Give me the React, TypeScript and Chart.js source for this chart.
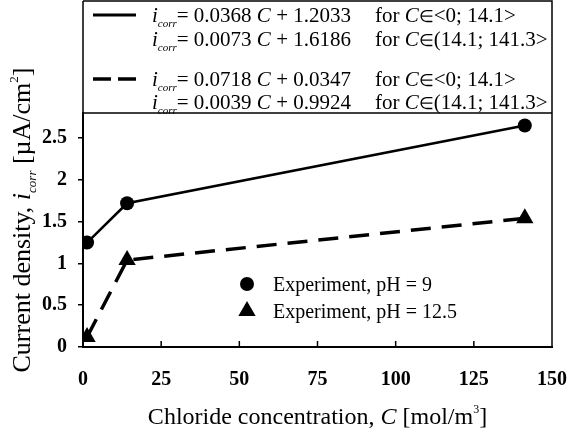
import React, { useEffect, useRef } from 'react';
import { Chart, registerables } from 'chart.js';

Chart.register(...registerables);

// ---- data ----
const concentrations = [1.3, 14.1, 141.3];
const currentPH9 = [1.25, 1.72, 2.65];
const currentPH125 = [0.12, 1.04, 1.54];
const xTicks = [0, 25, 50, 75, 100, 125, 150];
const yTicks = [0, 0.5, 1, 1.5, 2, 2.5];
const seriesNames = ['Experiment, pH = 9', 'Experiment, pH = 12.5'];
const eqSlopes = ['0.0368', '0.0073', '0.0718', '0.0039'];
const eqIntercepts = ['1.2033', '1.6186', '0.0347', '0.9924'];
const eqRanges = ['<0; 14.1>', '(14.1; 141.3>', '<0; 14.1>', '(14.1; 141.3>'];

const FAM = '"Liberation Serif", "Times New Roman", Times, serif';

type Seg = { t: string; it?: boolean; sub?: boolean; sup?: boolean; scale?: number };

function segFont(s: Seg, size: number) {
  let sz = s.sub || s.sup ? Math.round(size * 0.5) : size;
  if (s.scale) sz = Math.round(size * s.scale);
  return `${s.it ? 'italic ' : ''}${sz}px ${FAM}`;
}

function richWidth(ctx: CanvasRenderingContext2D, segs: Seg[], size: number) {
  let w = 0;
  for (const s of segs) {
    ctx.font = segFont(s, size);
    w += ctx.measureText(s.t).width;
  }
  return w;
}

function drawRich(ctx: CanvasRenderingContext2D, segs: Seg[], x: number, y: number, size: number) {
  ctx.textBaseline = 'alphabetic';
  ctx.textAlign = 'left';
  let cx = x;
  for (const s of segs) {
    ctx.font = segFont(s, size);
    let dy = 0;
    if (s.sub) dy = size * 0.22;
    if (s.sup) dy = -size * 0.45;
    ctx.fillText(s.t, cx, y + dy);
    cx += ctx.measureText(s.t).width;
  }
  return cx;
}

const decorPlugin = {
  id: 'decor',
  afterDraw(chart: any) {
    const ctx: CanvasRenderingContext2D = chart.ctx;
    const { left, right, top, bottom } = chart.chartArea;
    const xs = chart.scales.x;
    ctx.save();
    ctx.fillStyle = '#000';
    ctx.strokeStyle = '#000';

    // frame: legend box + plot right/top
    ctx.lineWidth = 1.5;
    ctx.beginPath();
    ctx.moveTo(left, 1);
    ctx.lineTo(right, 1);
    ctx.lineTo(right, bottom);
    ctx.moveTo(left, 1);
    ctx.lineTo(left, top);
    ctx.moveTo(left, top);
    ctx.lineTo(right, top);
    ctx.stroke();

    // inner x ticks
    ctx.lineWidth = 1.5;
    ctx.beginPath();
    for (const v of xTicks) {
      if (v === xTicks[0] || v === xTicks[xTicks.length - 1]) continue;
      const px = xs.getPixelForValue(v);
      ctx.moveTo(px, bottom);
      ctx.lineTo(px, bottom - 6);
    }
    ctx.stroke();

    // equations box
    const eqSize = 21;
    const rowsY = [22, 46, 86, 109];
    const eqX = left + 69;
    const forX = left + 292;
    for (let i = 0; i < 4; i++) {
      const y = rowsY[i];
      drawRich(ctx, [
        { t: 'i', it: true },
        { t: 'corr', it: true, sub: true },
        { t: `= ${eqSlopes[i]} ` },
        { t: 'C', it: true },
        { t: ` + ${eqIntercepts[i]}` },
      ], eqX, y, eqSize);
      drawRich(ctx, [
        { t: 'for ' },
        { t: 'C', it: true },
        { t: '\u2208', scale: 0.8 },
        { t: eqRanges[i] },
      ], forX, y, eqSize);
    }
    // line samples
    ctx.lineWidth = 3;
    ctx.beginPath();
    ctx.moveTo(left + 10, 15);
    ctx.lineTo(left + 53, 15);
    ctx.stroke();
    ctx.lineWidth = 3.5;
    ctx.beginPath();
    ctx.moveTo(left + 10, 79);
    ctx.lineTo(left + 28, 79);
    ctx.moveTo(left + 35, 79);
    ctx.lineTo(left + 53, 79);
    ctx.stroke();

    // inner legend
    const lx = 247;
    ctx.beginPath();
    ctx.arc(lx, 284, 7, 0, Math.PI * 2);
    ctx.fill();
    const r = 10;
    const ty = 311;
    ctx.beginPath();
    ctx.moveTo(lx, ty - r);
    ctx.lineTo(lx + r * Math.sin((2 * Math.PI) / 3), ty - r * Math.cos((2 * Math.PI) / 3));
    ctx.lineTo(lx + r * Math.sin((4 * Math.PI) / 3), ty - r * Math.cos((4 * Math.PI) / 3));
    ctx.closePath();
    ctx.fill();
    ctx.font = `20px ${FAM}`;
    ctx.textBaseline = 'alphabetic';
    ctx.textAlign = 'left';
    ctx.fillText(seriesNames[0], 273, 291);
    ctx.fillText(seriesNames[1], 273, 318);

    // x axis title
    const tSize = 24;
    const xt: Seg[] = [
      { t: 'Chloride concentration, ' },
      { t: 'C', it: true },
      { t: ' [mol/m' },
      { t: '3', sup: true },
      { t: ']' },
    ];
    const xw = richWidth(ctx, xt, tSize);
    drawRich(ctx, xt, (left + right) / 2 - xw / 2, 424, tSize);

    // y axis title
    const yt: Seg[] = [
      { t: 'Current density, ' },
      { t: 'i', it: true },
      { t: 'corr', it: true, sub: true },
      { t: ' [\u00b5A/cm' },
      { t: '2', sup: true },
      { t: ']' },
    ];
    const ySize = 26;
    const yw = richWidth(ctx, yt, ySize);
    ctx.translate(30, 220);
    ctx.rotate(-Math.PI / 2);
    drawRich(ctx, yt, -yw / 2, 0, ySize);
    ctx.restore();
  },
};

export default function App() {
  const ref = useRef<HTMLCanvasElement | null>(null);
  useEffect(() => {
    if (!ref.current) return;
    const tickFont = { family: FAM, size: 20, weight: 'bold' as const };
    const chart = new Chart(ref.current, {
      type: 'scatter',
      data: {
        datasets: [
          {
            label: seriesNames[0],
            data: concentrations.map((c, i) => ({ x: c, y: currentPH9[i] })),
            showLine: true,
            borderColor: '#000',
            backgroundColor: '#000',
            borderWidth: 2.5,
            pointStyle: 'circle',
            pointRadius: 7,
            pointBorderWidth: 0,
          },
          {
            label: seriesNames[1],
            data: concentrations.map((c, i) => ({ x: c, y: currentPH125[i] })),
            showLine: true,
            borderColor: '#000',
            backgroundColor: '#000',
            borderWidth: 3.5,
            borderDash: [20, 11],
            pointStyle: 'triangle',
            pointRadius: 10,
            pointBorderWidth: 0,
          },
        ],
      },
      options: {
        animation: false,
        responsive: false,
        layout: { padding: { top: 113, right: 17, left: 0, bottom: 0 } },
        plugins: { legend: { display: false }, tooltip: { enabled: false } },
        scales: {
          x: {
            type: 'linear',
            min: 0,
            max: 150,
            afterBuildTicks: (s: any) => {
              s.ticks = xTicks.map((v) => ({ value: v }));
            },
            afterFit: (s: any) => {
              s.height = 92;
              s.paddingLeft = 0;
              s.paddingRight = 0;
            },
            grid: { drawOnChartArea: false, drawTicks: false },
            border: { color: '#000', width: 2 },
            ticks: {
              font: tickFont,
              color: '#000',
              padding: 21,
              maxRotation: 0,
              autoSkip: false,
              callback: (v: any) => String(v),
            },
          },
          y: {
            type: 'linear',
            min: 0,
            max: 2.8,
            afterBuildTicks: (s: any) => {
              s.ticks = yTicks.map((v) => ({ value: v }));
            },
            afterFit: (s: any) => {
              s.width = 83;
              s.paddingTop = 0;
              s.paddingBottom = 0;
            },
            grid: { drawOnChartArea: false, drawTicks: true, tickLength: 5, color: '#000', tickColor: '#000', lineWidth: 1.5 },
            border: { color: '#000', width: 2 },
            ticks: {
              font: tickFont,
              color: '#000',
              padding: 11,
              autoSkip: false,
              callback: (v: any) => String(v),
            },
          },
        },
      },
      plugins: [decorPlugin],
    });
    return () => chart.destroy();
  }, []);
  return (
    <div style={{ position: 'fixed', left: 0, top: 0, width: 569, height: 439, background: '#fff' }}>
      <canvas ref={ref} width={569} height={439} style={{ display: 'block', width: 569, height: 439 }} />
    </div>
  );
}
